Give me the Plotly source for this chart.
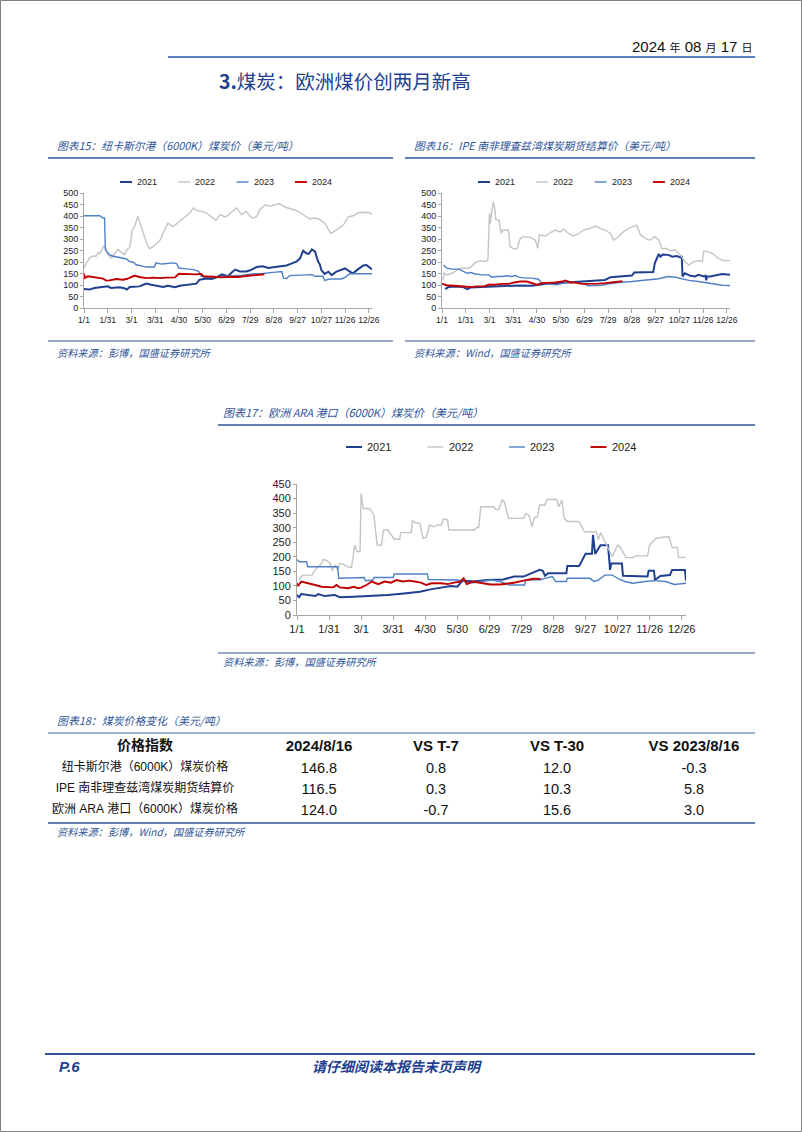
import plotly.graph_objects as go

W, H = 802, 1132
def X(px): return px / W
def Y(py): return 1 - py / H

# ---------------- data ----------------
TICK_DAYS = [0, 30, 60, 90, 120, 150, 180, 210, 240, 270, 300, 330, 360]
TICK_LABELS = ["1/1", "1/31", "3/1", "3/31", "4/30", "5/30", "6/29", "7/29",
               "8/28", "9/27", "10/27", "11/26", "12/26"]
YEARS = ["2021", "2022", "2023", "2024"]

# Chart 15: Newcastle (6000K)
nc_2021_day = [0,7,13,22,30,34,45,51,54,58,64,70,75,79,85,91,100,106,113,115,121,129,138,142,146,155,161,167,174,178,182,186,191,197,205,210,218,226,233,239,247,256,262,269,273,277,281,284,288,292,296,298,300,304,309,313,319,326,330,336,340,347,353,357,361,364]
nc_2021_val = [83,80,87,91,94,87,90,86,80,91,94,94,101,106,101,97,91,97,94,90,97,100,106,106,123,128,126,132,146,143,138,152,167,159,159,164,178,181,174,177,181,185,193,203,216,249,238,235,255,245,201,190,165,148,158,143,158,168,172,158,151,170,185,187,177,168]
nc_2022_day = [0,3,7,11,16,18,20,22,25,27,30,35,39,43,47,51,54,58,61,64,68,73,77,80,83,89,96,102,106,112,117,123,129,134,138,142,148,155,161,167,172,178,182,186,193,199,205,212,218,222,229,235,241,247,254,262,271,279,285,292,298,304,308,312,316,321,328,334,340,347,353,359,364]
nc_2022_val = [174,196,217,225,227,242,236,251,268,261,232,217,239,254,242,232,251,265,340,355,398,340,304,275,258,271,294,340,369,355,365,384,398,413,435,425,420,413,396,381,406,396,401,416,435,406,420,391,396,427,449,442,449,454,439,430,420,401,387,391,384,369,345,325,332,345,362,396,401,415,416,416,408]
nc_2023_day = [0,20,24,26,27,29,32,37,45,54,57,62,66,73,79,89,91,98,106,113,117,120,129,138,145,148,153,163,172,180,197,214,226,239,250,252,256,260,281,288,292,302,304,311,325,330,336,340,364]
nc_2023_val = [401,401,391,391,254,246,232,225,220,213,203,199,188,181,178,178,196,191,193,196,193,174,170,167,159,138,133,133,135,138,141,149,150,155,159,130,128,141,142,145,138,138,120,126,126,133,149,149,149]
nc_2024_day = [0,1,5,11,20,24,28,32,41,49,54,60,64,70,79,87,96,104,115,120,125,134,142,148,151,163,174,184,195,205,214,221,228]
nc_2024_val = [149,130,138,135,130,128,119,120,126,123,126,135,141,135,130,132,130,132,133,149,148,145,146,149,138,136,133,136,135,139,143,146,146.8]

# Chart 16: IPE Richards Bay futures
ipe_2021_day = [4,8,17,27,32,36,51,67,80,97,114,122,131,143,156,173,189,206,213,227,240,243,267,269,272,274,276,279,286,291,297,301,303,304,307,309,314,320,324,331,333,334,335,339,347,354,364]
ipe_2021_val = [82,91,94,91,82,89,91,94,97,98,97,101,105,108,111,114,120,122,134,137,141,154,156,195,223,235,223,233,231,223,226,220,226,137,151,148,140,137,144,137,140,120,137,137,144,148,144]
ipe_2022_day = [1,3,6,13,19,25,34,38,42,48,55,58,60,61,63,65,67,68,72,75,77,84,86,91,95,99,103,112,118,121,123,131,135,143,149,154,160,166,173,179,187,194,200,206,213,217,223,229,236,242,246,251,257,263,269,274,278,284,288,295,299,303,307,312,318,324,329,331,336,343,349,356,364]
ipe_2022_val = [120,151,144,151,166,173,173,183,197,205,202,209,411,367,425,461,425,385,382,324,339,339,267,256,259,303,310,307,295,259,317,313,324,339,331,343,324,313,324,339,346,356,346,339,324,295,310,331,346,353,360,317,303,295,310,295,259,259,249,252,238,223,202,187,202,206,202,248,245,235,216,206,206]
ipe_2023_day = [2,6,13,21,27,32,36,42,51,59,63,69,76,82,88,93,97,105,114,122,126,135,145,154,160,168,177,185,194,202,211,223,240,257,274,286,295,303,312,324,337,345,354,364]
ipe_2023_val = [187,173,169,169,159,151,154,148,144,144,134,137,137,140,137,141,134,130,130,125,108,104,101,108,115,111,108,97,97,99,105,111,115,120,127,137,134,127,120,115,108,105,99,98]
ipe_2024_day = [0,6,15,25,36,44,53,59,67,76,84,91,99,107,114,120,126,135,143,152,156,162,168,177,185,192,198,206,215,221,228]
ipe_2024_val = [105,99,97,94,91,94,94,101,101,105,105,111,115,115,108,101,108,108,111,115,120,111,111,105,105,103,106,108,112,116,116.5]

# Chart 17: ARA (6000K)
ara_2021_day = [0,2,4,10,17,20,26,35,40,53,65,75,85,100,115,125,138,144,150,153,155,165,178,193,203,212,218,222,227,230,232,235,252,253,264,270,276,277,279,284,291,293,294,304,305,328,329,334,335,340,349,351,363,364]
ara_2021_val = [69,61,72,69,65,72,65,69,61,63,65,68,69,74,80,88,95,100,97,110,118,115,120,122,132,132,141,149,155,152,135,143,143,168,168,210,210,275,210,240,240,155,177,177,135,132,152,152,120,134,137,155,155,118]
ara_2022_day = [2,4,6,14,17,23,25,28,31,33,36,38,40,43,47,51,54,56,59,60,62,68,72,75,79,81,85,88,91,96,97,107,108,111,115,118,121,124,128,131,135,137,141,142,166,168,170,172,184,186,189,192,194,198,212,214,217,220,222,225,227,232,234,243,245,248,250,253,264,269,280,282,284,289,295,300,302,308,314,317,328,330,336,342,348,351,356,357,364]
ara_2022_val = [120,132,137,137,155,177,191,187,177,152,172,155,177,175,166,163,240,218,218,418,366,366,343,240,240,292,292,278,260,260,283,283,324,317,315,263,267,309,303,309,309,330,326,292,292,300,300,372,372,363,363,395,389,332,332,349,343,303,335,338,378,378,397,397,372,395,332,321,321,286,286,258,283,246,200,240,235,197,197,203,203,240,263,267,269,232,232,198,198]
ara_2023_day = [0,2,9,10,38,39,63,64,71,72,90,91,122,123,150,155,160,171,182,190,199,213,214,228,232,239,242,252,253,274,278,282,288,295,302,307,314,326,333,345,353,364]
ara_2023_val = [191,183,183,166,166,126,129,118,120,129,129,141,141,122,120,118,108,115,120,115,103,103,120,121,126,132,115,115,126,126,115,120,137,137,122,115,109,115,118,115,105,109]
ara_2024_day = [0,1,4,9,17,23,31,34,37,40,48,53,57,60,65,70,76,82,88,93,99,105,110,116,121,126,135,141,147,153,156,159,164,172,181,190,198,203,212,218,221,228]
ara_2024_val = [109,100,115,111,103,97,95,95,103,95,92,97,92,94,103,115,106,115,111,120,115,118,115,111,103,109,109,106,111,115,126,106,115,111,105,105,108.4,111,118,122,124.7,124]

# Table 18
TABLE_HEADERS = ["价格指数", "2024/8/16", "VS T-7", "VS T-30", "VS 2023/8/16"]
INDEX_NAMES = ["纽卡斯尔港（6000K）煤炭价格", "IPE 南非理查兹湾煤炭期货结算价", "欧洲 ARA 港口（6000K）煤炭价格"]
PRICE_0816 = [146.8, 116.5, 124.0]
VS_T7 = [0.8, 0.3, -0.7]
VS_T30 = [12.0, 10.3, 15.6]
VS_2023 = [-0.3, 5.8, 3.0]

# ---------------- style ----------------
COLORS = {"2021": "#1F3F8F", "2022": "#C4C4C4", "2023": "#4F81C7", "2024": "#C00000"}
LW = {"2021": 2.0, "2022": 1.4, "2023": 1.4, "2024": 1.9}
CJK = "Noto Sans CJK SC"
NUM = "Liberation Sans, Arial, sans-serif"
MIX = "Liberation Sans, Noto Sans CJK SC, sans-serif"
BLUE_TXT = "#2F5597"
DARK_BLUE = "#1F3F8F"
AXIS_GRAY = "#A6A6A6"

def nb(s):
    return s.replace(" ", "\u00a0")

charts = [
    ("x", "y", {"2021": (nc_2021_day, nc_2021_val), "2022": (nc_2022_day, nc_2022_val),
                "2023": (nc_2023_day, nc_2023_val), "2024": (nc_2024_day, nc_2024_val)}),
    ("x2", "y2", {"2021": (ipe_2021_day, ipe_2021_val), "2022": (ipe_2022_day, ipe_2022_val),
                  "2023": (ipe_2023_day, ipe_2023_val), "2024": (ipe_2024_day, ipe_2024_val)}),
    ("x3", "y3", {"2021": (ara_2021_day, ara_2021_val), "2022": (ara_2022_day, ara_2022_val),
                  "2023": (ara_2023_day, ara_2023_val), "2024": (ara_2024_day, ara_2024_val)}),
]

fig = go.Figure()
for xa, ya, data in charts:
    for yr in YEARS:
        d, v = data[yr]
        fig.add_trace(go.Scatter(x=d, y=v, mode="lines", name=yr, xaxis=xa, yaxis=ya,
                                 showlegend=False, line=dict(color=COLORS[yr], width=LW[yr]),
                                 hoverinfo="skip"))

# table
fig.add_trace(go.Table(
    domain=dict(x=[X(52), X(746)], y=[Y(830), Y(731.5)]),
    columnwidth=[186, 162, 72, 170, 104],
    header=dict(values=[nb(h) for h in TABLE_HEADERS], height=22.5,
                fill_color="rgba(0,0,0,0)", line_color="rgba(0,0,0,0)", align="center",
                font=dict(family=MIX, size=[14, 15, 15, 15, 15], color="#111", weight="bold")),
    cells=dict(values=[[nb(s) for s in INDEX_NAMES], PRICE_0816, VS_T7, VS_T30, VS_2023], height=21,
               format=[None, ".1f", ".1f", ".1f", ".1f"],
               fill_color="rgba(0,0,0,0)", line_color="rgba(0,0,0,0)", align="center",
               font=dict(family=MIX, size=[12, 14.5, 14.5, 14.5, 14.5], color="#111")),
))

def xaxis(dom, anchor, fs):
    return dict(domain=dom, anchor=anchor, range=[0, 364], tickmode="array", tickvals=TICK_DAYS,
                ticktext=TICK_LABELS, ticks="outside", ticklen=4, tickcolor=AXIS_GRAY, showline=True,
                linecolor=AXIS_GRAY, linewidth=1, showgrid=False, zeroline=False, tickangle=0,
                automargin=False, tickfont=dict(family=NUM, size=fs, color="#222"), fixedrange=True)

def yaxis(dom, anchor, rng, fs):
    return dict(domain=dom, anchor=anchor, range=rng, dtick=50, tick0=0, ticks="outside", ticklen=3,
                tickcolor=AXIS_GRAY, showline=True, linecolor=AXIS_GRAY, linewidth=1, showgrid=False,
                automargin=False, zeroline=False, tickfont=dict(family=NUM, size=fs, color="#222"),
                fixedrange=True)

annotations = []
def txt(s, x, y, size, color="#111", family=CJK, xanchor="left"):
    annotations.append(dict(text=s, x=X(x), y=Y(y), xref="paper", yref="paper", showarrow=False,
                            xanchor=xanchor, yanchor="middle", font=dict(family=family, size=size, color=color)))

shapes = []
def hline(x0, x1, y, color, w):
    shapes.append(dict(type="line", xref="paper", yref="paper", x0=X(x0), x1=X(x1), y0=Y(y), y1=Y(y),
                       line=dict(color=color, width=w)))

# legends (line sample + label) for each chart
LEGENDS = [  # (first line x, spacing, y, line length, font size)
    (120, 58.3, 182, 12, 9),
    (478, 58.3, 182, 12, 9),
    (346, 81.5, 447, 16, 11),
]
for (lx, sp, ly, ll, fs) in LEGENDS:
    for i, yr in enumerate(YEARS):
        x0 = lx + i * sp
        hline(x0, x0 + ll, ly, COLORS[yr], LW[yr])
        txt(yr, x0 + ll + 3, ly, fs, "#222", NUM)

txt("2024 <span style='font-size:11px'>年</span> 08 <span style='font-size:11px'>月</span> 17 "
    "<span style='font-size:11px'>日</span>", 755, 47, 15, "#111", MIX, "right")
txt("<b>3.</b>煤炭：欧洲煤价创两月新高", 217, 81, 19.5, DARK_BLUE)
txt("<i>图表15：纽卡斯尔港（6000K）煤炭价（美元/吨）</i>", 55, 145, 10.8, BLUE_TXT)
txt("<i>图表16：IPE 南非理查兹湾煤炭期货结算价（美元/吨）</i>", 412, 145, 10.8, BLUE_TXT)
txt("<i>资料来源：彭博，国盛证券研究所</i>", 55, 352, 10.2, BLUE_TXT)
txt("<i>资料来源：Wind，国盛证券研究所</i>", 412, 352, 10.2, BLUE_TXT)
txt("<i>图表17：欧洲 ARA 港口（6000K）煤炭价（美元/吨）</i>", 221, 412, 11, BLUE_TXT)
txt("<i>资料来源：彭博，国盛证券研究所</i>", 221, 661, 10.2, BLUE_TXT)
txt("<i>图表18：煤炭价格变化（美元/吨）</i>", 55, 720, 10.9, BLUE_TXT)
txt("<i>资料来源：彭博，Wind，国盛证券研究所</i>", 55, 831, 10.2, BLUE_TXT)
txt("<b><i>P.6</i></b>", 57, 1066, 15, DARK_BLUE, NUM)
txt("<b><i>请仔细阅读本报告末页声明</i></b>", 397, 1066, 14, DARK_BLUE, CJK, "center")

hline(168, 755, 57, "#5B82BE", 2)
hline(48, 393, 158, "#2F5597", 1.5)
hline(405, 755, 158, "#2F5597", 1.5)
hline(48, 393, 341, "#2F5597", 1.2)
hline(405, 755, 341, "#2F5597", 1.2)
hline(218, 755, 425, "#2F5597", 1.5)
hline(218, 755, 653, "#2F5597", 1.2)
hline(48, 755, 733, "#9DB3D6", 2)
hline(48, 755, 823, "#2F5597", 1.5)
hline(45, 755, 1054, "#2F5597", 2)
shapes.append(dict(type="rect", xref="paper", yref="paper", x0=X(0.5), x1=X(801.5), y0=Y(1131.5), y1=Y(0.5),
                   line=dict(color="#808080", width=1)))

fig.update_layout(
    width=W, height=H, margin=dict(l=0, r=0, t=0, b=0, pad=0, autoexpand=False),
    paper_bgcolor="white", plot_bgcolor="white", showlegend=False,
    xaxis=xaxis([X(84), X(372)], "y", 8.5),
    yaxis=yaxis([Y(308), Y(193)], "x", [0, 500], 9),
    xaxis2=xaxis([X(442), X(730)], "y2", 8.5),
    yaxis2=yaxis([Y(308), Y(193)], "x2", [0, 500], 9),
    xaxis3=xaxis([X(297), X(686)], "y3", 11),
    yaxis3=yaxis([Y(615), Y(484)], "x3", [0, 450], 11),
    annotations=annotations, shapes=shapes,
)

fig.write_html("out.html", config={"displayModeBar": False},
               post_script="document.body.style.margin='0px';")
